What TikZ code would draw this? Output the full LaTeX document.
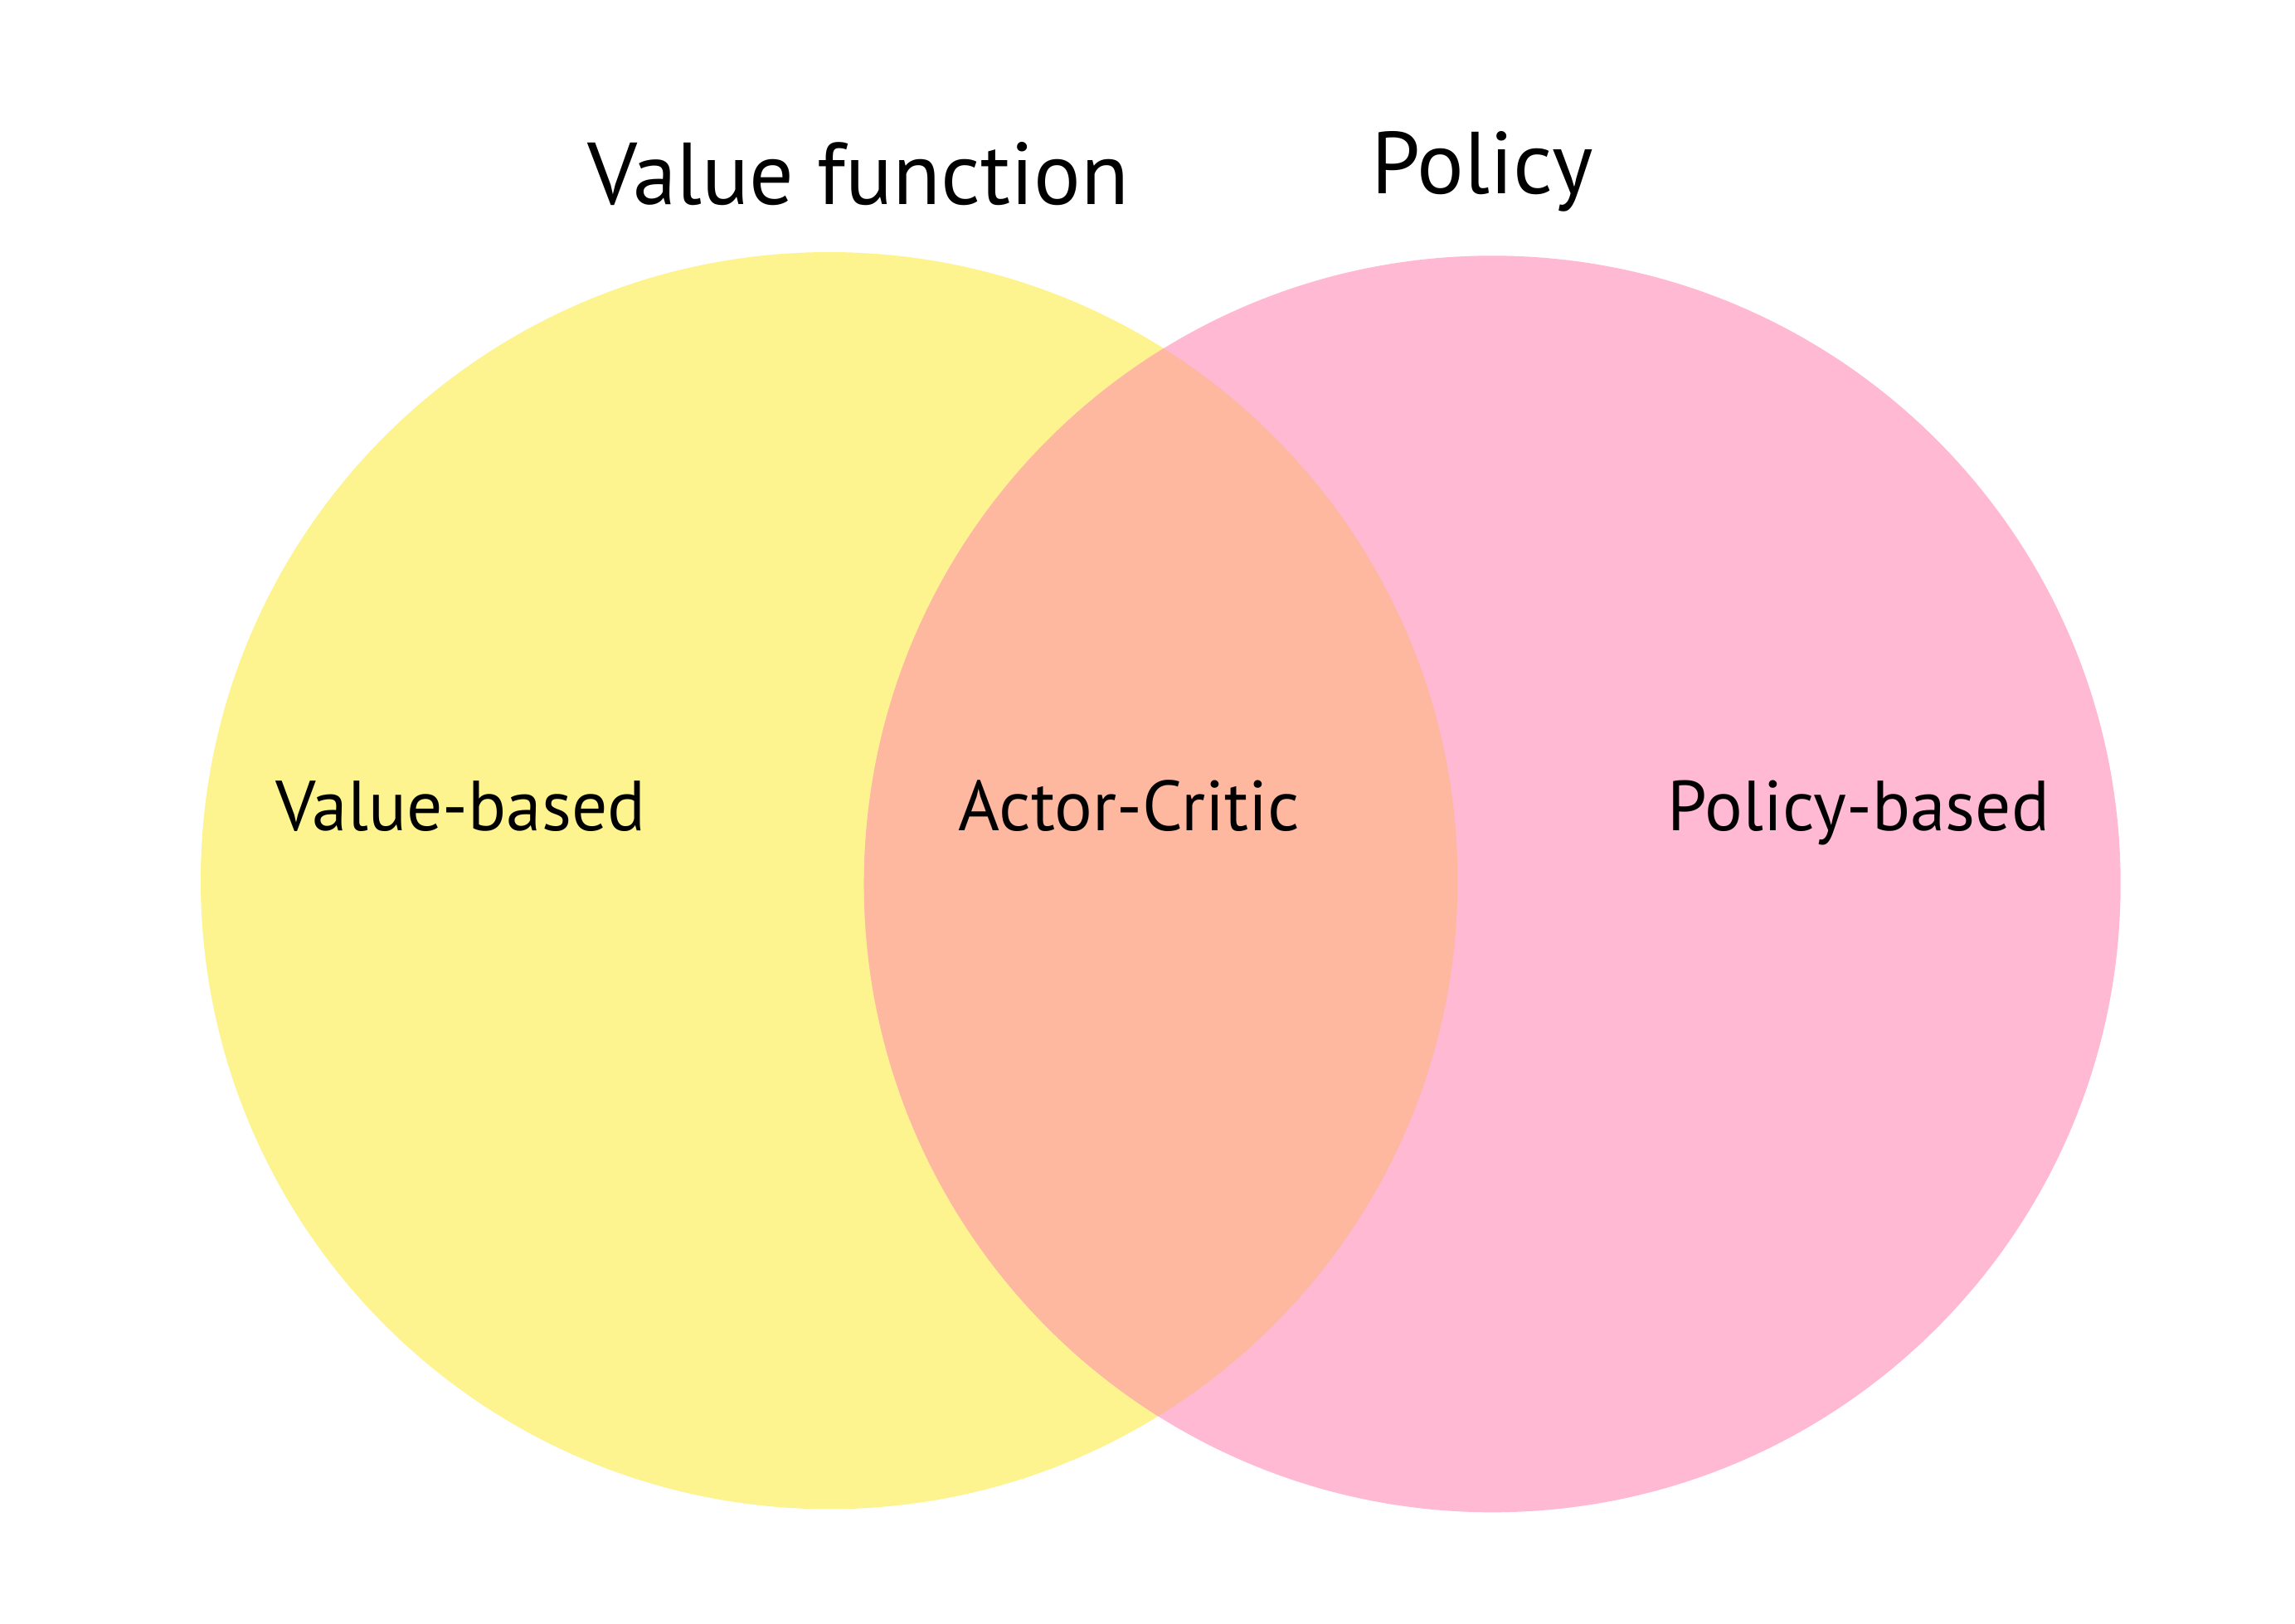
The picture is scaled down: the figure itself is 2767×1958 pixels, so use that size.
\documentclass[tikz,border=0pt]{standalone}
\usepackage{fontspec}
\setmainfont{PT Sans}
\definecolor{vyellow}{RGB}{253,244,144}
\definecolor{vpink}{RGB}{255,185,211}
\definecolor{voverlap}{RGB}{253,184,159}
\begin{document}
\begin{tikzpicture}[x=1pt,y=-1pt,
  title/.style={font=\fontsize{106}{120}\selectfont, inner sep=0pt, anchor=base},
  label/.style={font=\fontsize{85.5}{100}\selectfont, inner sep=0pt, anchor=base}]
\useasboundingbox (0,0) rectangle (2767,1958);
\fill[white] (0,0) rectangle (2767,1958);
\coordinate (cl) at (999.7,1061.7);
\coordinate (cr) at (1799.2,1065.8);
\fill[vyellow] (cl) circle[radius=757.7];
\fill[vpink] (cr) circle[radius=757.5];
\begin{scope}
  \clip (cl) circle[radius=757.7];
  \fill[voverlap] (cr) circle[radius=757.5];
\end{scope}
\node[title] (tv) at (1034.8,246.7) {Value function};
\node[title] (tp) at (1786.8,233.3) {Policy};
\node[label] (lv) at (555.5,1001.7) {Value-based};
\node[label] (la) at (1361.4,1001.7) {Actor-Critic};
\node[label] (lp) at (2240.8,1001.7) {Policy-based};
\end{tikzpicture}
\end{document}
